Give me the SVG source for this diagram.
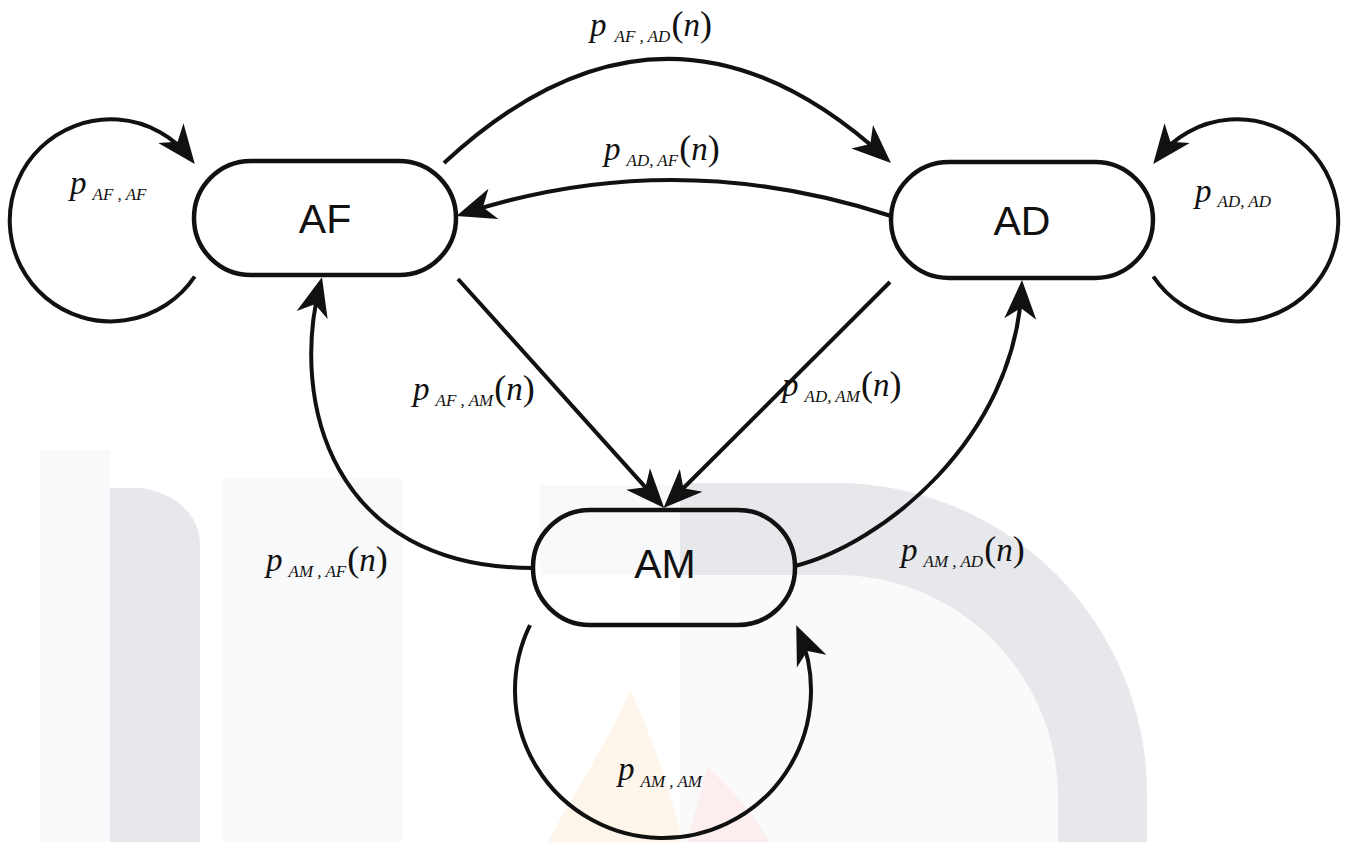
<svg xmlns="http://www.w3.org/2000/svg" width="1346" height="842" viewBox="0 0 1346 842">
  <style>
    .wm-dark { fill: #e7e8ec; }
    .wm-light { fill: #f8f9fa; }
    .node rect { fill: none; stroke: #111; stroke-width: 4.5; }
    .node text { font-family: "Liberation Sans", Arial, sans-serif; font-size: 41px; text-anchor: middle; fill: #111; }
    .edge { fill: none; stroke: #111; stroke-width: 4; marker-end: url(#arrow); }
    .lbl { font-family: "Liberation Serif", "Times New Roman", serif; fill: #111; }
    .it { font-style: italic; font-size: 33px; }
    .sub { font-style: italic; font-size: 17px; }
    .par { font-style: normal; font-size: 36px; }
  </style>
  <defs>
    <marker id="arrow" viewBox="-34 -17 42 34" markerWidth="42" markerHeight="34" refX="0" refY="0" orient="auto" markerUnits="userSpaceOnUse">
      <path d="M7,0 L-32,-16 L-21,0 L-32,16 Z" fill="#111"/>
    </marker>
  </defs>
  <rect x="0" y="0" width="1346" height="842" fill="#ffffff"/>
  <g id="watermark">
    <rect class="wm-light" x="40" y="450" width="70" height="392"/>
    <rect class="wm-light" x="223" y="478" width="180" height="364"/>
    <path class="wm-dark" d="M110 842 V488 H140 C175 492 200 515 200 545 V842 Z"/>
    <path class="wm-light" d="M540 485 H680 V575 H540 Z"/>
    <path d="M680 575 H836 A222 222 0 0 1 1058 797 V842 H680 Z" fill="#fafafb"/>
    <path class="wm-dark" d="M680 483 H836 A311 311 0 0 1 1147 794 V842 H1058 V797 A222 222 0 0 0 836 575 H680 Z"/>
    <path d="M630 690 C610 740 575 790 548 842 H683 C670 790 650 730 630 690 Z" fill="#fef6ea"/>
    <path d="M707 767 C700 800 692 820 688 842 H770 C750 810 728 785 707 767 Z" fill="#fcedee"/>
  </g>
  <g id="connectors">
    <path class="edge" d="M444 163 Q666 -43 885.8 158.3"/>
    <path class="edge" d="M891 216 Q673 145 463 213.8"/>
    <path class="edge" d="M194.7 276.5 A101 101 0 1 1 190.5 158.4"/>
    <path class="edge" d="M1153.3 276.5 A101 101 0 1 0 1157.5 158.4"/>
    <path class="edge" d="M530 625.1 A148 148 0 1 0 799 631.7"/>
    <path class="edge" d="M458 279 L659.5 502.8"/>
    <path class="edge" d="M890 282 L668.5 503"/>
    <path class="edge" d="M533 568 C330 568 290 400 320.2 284"/>
    <path class="edge" d="M795 566 C880 545 1015 440 1021.7 287"/>
  </g>
  <g id="labels">
    <text class="lbl" x="590" y="36"><tspan class="it">p</tspan><tspan class="sub" dx="8" dy="6">AF , AD</tspan><tspan class="par" dx="1" dy="-6">(</tspan><tspan class="it">n</tspan><tspan class="par">)</tspan></text>
    <text class="lbl" x="604" y="160"><tspan class="it">p</tspan><tspan class="sub" dx="6" dy="6">AD, AF</tspan><tspan class="par" dx="1" dy="-6">(</tspan><tspan class="it">n</tspan><tspan class="par">)</tspan></text>
    <text class="lbl" x="70" y="194"><tspan class="it">p</tspan><tspan class="sub" dx="6" dy="6">AF , AF</tspan></text>
    <text class="lbl" x="1195" y="202"><tspan class="it">p</tspan><tspan class="sub" dx="6" dy="5">AD, AD</tspan></text>
    <text class="lbl" x="413" y="400"><tspan class="it">p</tspan><tspan class="sub" dx="6" dy="6">AF , AM</tspan><tspan class="par" dx="1" dy="-6">(</tspan><tspan class="it">n</tspan><tspan class="par">)</tspan></text>
    <text class="lbl" x="782" y="396"><tspan class="it">p</tspan><tspan class="sub" dx="6" dy="6">AD, AM</tspan><tspan class="par" dx="1" dy="-6">(</tspan><tspan class="it">n</tspan><tspan class="par">)</tspan></text>
    <text class="lbl" x="266" y="571"><tspan class="it">p</tspan><tspan class="sub" dx="6" dy="6">AM , AF</tspan><tspan class="par" dx="1" dy="-6">(</tspan><tspan class="it">n</tspan><tspan class="par">)</tspan></text>
    <text class="lbl" x="901" y="561"><tspan class="it">p</tspan><tspan class="sub" dx="6" dy="6">AM , AD</tspan><tspan class="par" dx="1" dy="-6">(</tspan><tspan class="it">n</tspan><tspan class="par">)</tspan></text>
    <text class="lbl" x="618" y="780"><tspan class="it">p</tspan><tspan class="sub" dx="6" dy="7">AM , AM</tspan></text>
  </g>
  <g id="node-AF" class="node">
    <rect x="194" y="161" width="262" height="114" rx="57" ry="57"/>
    <text x="325" y="233">AF</text>
  </g>
  <g id="node-AD" class="node">
    <rect x="891" y="162" width="262" height="116" rx="58" ry="58"/>
    <text x="1022" y="235">AD</text>
  </g>
  <g id="node-AM" class="node">
    <rect x="533" y="510" width="262" height="115" rx="57" ry="57"/>
    <text x="665" y="578">AM</text>
  </g>
</svg>
